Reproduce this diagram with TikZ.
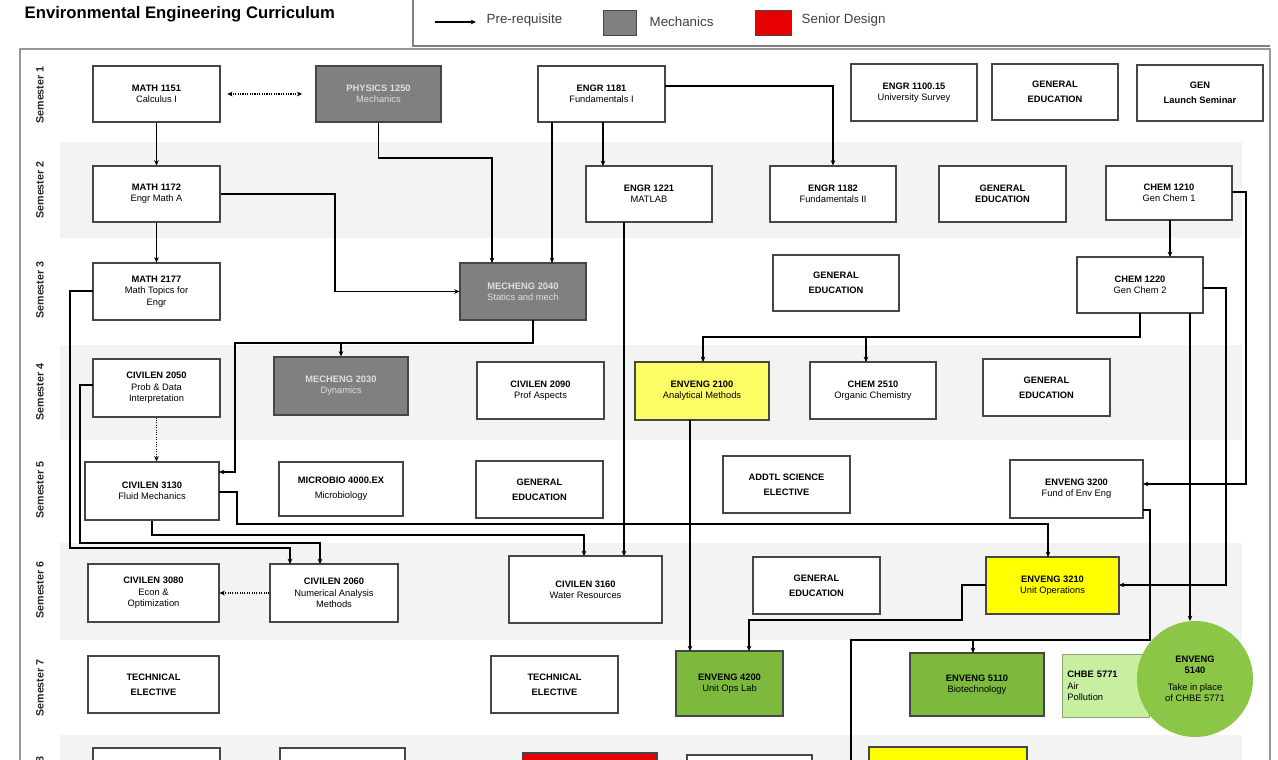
\documentclass[tikz,border=0pt]{standalone}
\usepackage{fontspec}
\setmainfont{Liberation Sans}
\usetikzlibrary{arrows.meta}
\definecolor{edge}{RGB}{70,70,70}
\definecolor{band}{RGB}{243,243,243}
\definecolor{mech}{RGB}{128,128,128}
\definecolor{ylw}{RGB}{255,255,0}
\definecolor{lylw}{RGB}{252,252,100}
\definecolor{grn}{RGB}{125,185,60}
\definecolor{lgrn}{RGB}{200,238,160}
\definecolor{cgrn}{RGB}{140,198,70}
\definecolor{sred}{RGB}{230,0,0}
\tikzset{
  box/.style={draw=edge,line width=0.8pt,fill=white,align=center,inner sep=1pt,font=\fontsize{7}{8.5}\selectfont},
  gbox/.style={box,fill=mech,text=gray!25},
  ybox/.style={box,fill=ylw},
  lybox/.style={box,fill=lylw},
  grbox/.style={box,fill=grn},
  rbox/.style={box,fill=sred},
  arr/.style={draw=black,line width=1pt,-{Stealth[length=4pt,width=3.5pt]}},
  dotarr/.style={draw=black,line width=0.8pt,densely dotted,-{Stealth[length=4pt,width=3.5pt]}},
  sem/.style={rotate=90,font=\bfseries\fontsize{8}{9}\selectfont,text=black!85}
}
\newcommand{\cbox}[7]{\node[#2,minimum width={(#5-#3)*0.75pt},minimum height={(#6-#4)*0.75pt}] (#1) at ({(#3+#5)/2},{(#4+#6)/2}) {#7};}
\begin{document}
\begin{tikzpicture}[x=0.75pt,y=-0.75pt]
\useasboundingbox (0,0) rectangle (1278,760);
\clip (0,0) rectangle (1278,760);
\fill[white] (0,0) rectangle (1278,760);
% bands
\foreach \a/\b in {142/238,345/440,543/640,735/770}{\fill[band] (60,\a) rectangle (1242,\b);}
% frames
\node[font=\bfseries\fontsize{12.5}{14}\selectfont,anchor=west] (title) at (20,14) {Environmental Engineering Curriculum};
\draw[gray,line width=1.2pt] (413,0) -- (413,46) -- (1270,46);
\draw[gray!80,line width=1.2pt] (20,770) -- (20,49) -- (1270,49) -- (1270,770);
% legend
\coordinate (la) at (435,22); \coordinate (lb) at (476,22);
\draw[arr] (la) -- (lb);
\node[anchor=west,font=\fontsize{10}{12}\selectfont,text=black!75] (lt1) at (482,20) {Pre-requisite};
\node[draw=edge,fill=mech,minimum width=25pt,minimum height=19pt] (lm) at (620,23) {};
\node[anchor=west,font=\fontsize{10}{12}\selectfont,text=black!75] (lt2) at (645,22) {Mechanics};
\node[draw=edge,fill=sred,minimum width=27pt,minimum height=19pt] (lr) at (773,23) {};
\node[anchor=west,font=\fontsize{10}{12}\selectfont,text=black!75] (lt3) at (797,20) {Senior Design};
% semester labels
\foreach \t/\y in {1/95,2/190,3/290,4/392,5/490,6/590,7/688}{\node[sem] (s\t) at (40,\y) {Semester \t};}
\node[sem,anchor=east] (s8) at (40,752) {Semester 8};
% sem1
\cbox{m1151}{box}{93}{66}{220}{122}{\textbf{MATH 1151}\\Calculus I}
\cbox{p1250}{gbox}{316}{66}{441}{122}{\textbf{PHYSICS 1250}\\Mechanics}
\cbox{e1181}{box}{538}{66}{665}{122}{\textbf{ENGR 1181}\\Fundamentals I}
\cbox{e1100}{box}{851}{64}{977}{121}{\textbf{ENGR 1100.15}\\University Survey}
\cbox{ge1}{box}{992}{64}{1118}{120}{\textbf{GENERAL}\\[3pt]\textbf{EDUCATION}}
\cbox{gen}{box}{1137}{65}{1263}{121}{\textbf{GEN}\\[3pt]\textbf{Launch Seminar}}
% sem2
\cbox{m1172}{box}{93}{166}{220}{222}{\textbf{MATH 1172}\\Engr Math A}
\cbox{e1221}{box}{586}{166}{712}{222}{\textbf{ENGR 1221}\\MATLAB}
\cbox{e1182}{box}{770}{166}{896}{222}{\textbf{ENGR 1182}\\Fundamentals II}
\cbox{ge2}{box}{939}{166}{1066}{222}{\textbf{GENERAL}\\\textbf{EDUCATION}}
\cbox{c1210}{box}{1106}{166}{1232}{220}{\textbf{CHEM 1210}\\Gen Chem 1}
% sem3
\cbox{m2177}{box}{93}{263}{220}{320}{\textbf{MATH 2177}\\Math Topics for\\Engr}
\cbox{me2040}{gbox}{460}{263}{586}{320}{\textbf{MECHENG 2040}\\Statics and mech}
\cbox{ge3}{box}{773}{255}{899}{311}{\textbf{GENERAL}\\[3pt]\textbf{EDUCATION}}
\cbox{c1220}{box}{1077}{257}{1203}{313}{\textbf{CHEM 1220}\\Gen Chem 2}
% sem4
\cbox{cv2050}{box}{93}{359}{220}{417}{\textbf{CIVILEN 2050}\\Prob \& Data\\Interpretation}
\cbox{me2030}{gbox}{274}{357}{408}{415}{\textbf{MECHENG 2030}\\Dynamics}
\cbox{cv2090}{box}{477}{362}{604}{419}{\textbf{CIVILEN 2090}\\Prof Aspects}
\cbox{ev2100}{lybox}{635}{362}{769}{420}{\textbf{ENVENG 2100}\\Analytical Methods}
\cbox{c2510}{box}{810}{362}{936}{419}{\textbf{CHEM 2510}\\Organic Chemistry}
\cbox{ge4}{box}{983}{359}{1110}{416}{\textbf{GENERAL}\\[3pt]\textbf{EDUCATION}}
% sem5
\cbox{cv3130}{box}{85}{462}{219}{520}{\textbf{CIVILEN 3130}\\Fluid Mechanics}
\cbox{mb4000}{box}{279}{462}{403}{516}{\textbf{MICROBIO 4000.EX}\\[3pt]Microbiology}
\cbox{ge5}{box}{476}{461}{603}{518}{\textbf{GENERAL}\\[3pt]\textbf{EDUCATION}}
\cbox{adsci}{box}{723}{456}{850}{513}{\textbf{ADDTL SCIENCE}\\[3pt]\textbf{ELECTIVE}}
\cbox{ev3200}{box}{1010}{460}{1143}{518}{\textbf{ENVENG 3200}\\Fund of Env Eng}
% sem6
\cbox{cv3080}{box}{88}{564}{219}{622}{\textbf{CIVILEN 3080}\\Econ \&\\Optimization}
\cbox{cv2060}{box}{270}{564}{398}{622}{\textbf{CIVILEN 2060}\\Numerical Analysis\\Methods}
\cbox{cv3160}{box}{509}{556}{662}{623}{\textbf{CIVILEN 3160}\\Water Resources}
\cbox{ge6}{box}{753}{557}{880}{614}{\textbf{GENERAL}\\[3pt]\textbf{EDUCATION}}
\cbox{ev3210}{ybox}{986}{557}{1119}{614}{\textbf{ENVENG 3210}\\Unit Operations}
% sem7
\cbox{te1}{box}{88}{656}{219}{713}{\textbf{TECHNICAL}\\[3pt]\textbf{ELECTIVE}}
\cbox{te2}{box}{491}{656}{618}{713}{\textbf{TECHNICAL}\\[3pt]\textbf{ELECTIVE}}
\cbox{ev4200}{grbox}{676}{651}{783}{716}{\textbf{ENVENG 4200}\\Unit Ops Lab}
\cbox{ev5110}{grbox}{910}{653}{1044}{716}{\textbf{ENVENG 5110}\\Biotechnology}
\node[box,fill=lgrn,draw=lgrn!70!black,minimum width={87*0.75pt},minimum height={63*0.75pt},align=left,text width=58pt] (ch5771) at (1106,686) {\textbf{CHBE 5771}\\Air\\Pollution};
\node[circle,fill=cgrn,minimum size={116*0.75pt},inner sep=0pt,align=center,font=\fontsize{7}{8.5}\selectfont] (ev5140) at (1195,679) {\textbf{ENVENG}\\\textbf{5140}\\[4pt]Take in place\\of CHBE 5771};
% sem8 (cut)
\cbox{b81}{box}{93}{748}{220}{800}{}
\cbox{b82}{box}{280}{748}{405}{800}{}
\cbox{b83}{rbox}{523}{753}{657}{800}{}
\cbox{b84}{box}{687}{755}{812}{800}{}
\cbox{b85}{ybox}{869}{747}{1027}{800}{}
% connectors
\draw[dotarr,{Stealth[length=4pt,width=3.5pt]}-{Stealth[length=4pt,width=3.5pt]}] ([xshift=5pt]m1151.east) -- ([xshift=-10pt]p1250.west);
\draw[arr] (m1151.south) -- (m1172.north);
\draw[arr] (m1172.south) -- (m2177.north);
\draw[arr] (p1250.south) -- (p1250.south |- 0,158) -- (492,158) -- (492,263);
\draw[arr] (552,122) -- (552,263);
\draw[arr] (603,122) -- (603,166);
\draw[arr] (665,86) -| (e1182.north);
\draw[arr] (m1172.east) -- (m1172.east -| 335,0) |- (me2040.west);
\draw[arr] (533,320) -- (533,343) -| (me2030.north);
\draw[arr] (533,343) -- (235,343) -- (235,472) -- (219,472);
\draw[arr] (93,291) -- (70,291) -- (70,548) -- (290,548) -- (290,564);
\draw[arr] (93,385) -- (80,385) -- (80,543) -- (320,543) -- (320,564);
\draw[dotarr] (cv2050.south) -- (cv2050.south |- cv3130.north);
\draw[arr] (cv3130.south) -- (cv3130.south |- 0,535) -- (584,535) -- (584,556);
\draw[arr] (219,492) -- (237,492) -- (237,524) -- (1048,524) -- (1048,557);
\draw[arr] (624,222) -- (624,556);
\draw[dotarr] (cv2060.west) -- (cv3080.east);
\draw[arr] (1170,220) -- (1170,257);
\draw[arr] (1232,192) -- (1246,192) -- (1246,484) -- (1143,484);
\draw[arr] (1140,313) -- (1140,337) -- (703,337) -- (703,362);
\draw[arr] (866,337) -- (866,362);
\draw[arr] (1190,313) -- (1190,621);
\draw[arr] (1203,288) -- (1226,288) -- (1226,585) -- (1119,585);
\draw[arr] (690,420) -- (690,651);
\draw[arr] (986,585) -- (962,585) -- (962,620) -- (749,620) -- (749,651);
\draw[line width=1pt] (1143,510) -- (1150,510) -- (1150,640) -- (851,640) -- (851,770);
\draw[arr] (973,640) -- (973,653);
\end{tikzpicture}
\end{document}
